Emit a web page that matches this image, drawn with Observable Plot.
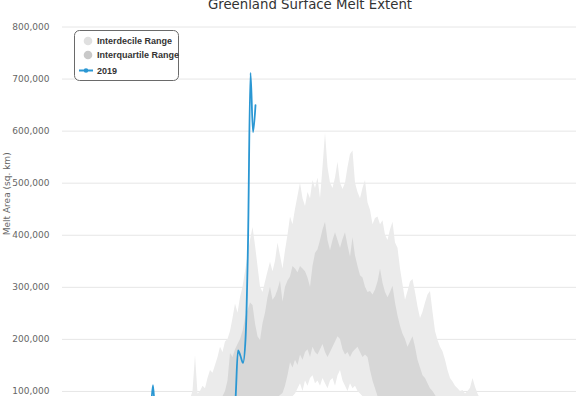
<!DOCTYPE html>
<html><head><meta charset="utf-8">
<script src="https://cdn.jsdelivr.net/npm/d3@7"></script>
<script src="https://cdn.jsdelivr.net/npm/@observablehq/plot@0.6"></script>
<style>
html,body{margin:0;padding:0;width:576px;height:396px;overflow:hidden;background:#fff;}
#wrap{position:relative;width:576px;height:396px;overflow:hidden;}
#chart{position:absolute;left:0;top:0;}
#title{position:absolute;left:44px;width:532px;top:-1.7px;text-align:center;font:13.3px/13.3px "DejaVu Sans",sans-serif;color:#333;white-space:nowrap;}
#legend{position:absolute;left:0;top:0;}
</style></head><body>
<div id="wrap"><div id="chart"></div><div id="title"></div><svg id="legend" width="576" height="100"></svg></div>
<script>
const titleText = "Greenland Surface Melt Extent";
const yLabel = "Melt Area (sq. km)";
const seriesNames = ["Interdecile Range", "Interquartile Range", "2019"];
const yTicks = [100000, 200000, 300000, 400000, 500000, 600000, 700000, 800000];

// Climatology bands, thousand sq. km, one value per day of year starting at day 135
const bandStartDay = 135;
const p90 = [55,70,60,80,85,100,169,95,100,110,
  105,125,140,135,150,165,185,175,195,200,
  215,240,268,250,280,300,330,360,390,415,
  380,340,300,290,310,330,348,330,350,385,
  360,335,370,400,435,420,450,475,500,470,
  455,482,470,505,490,510,470,530,596,530,
  500,490,510,540,500,488,500,530,555,562,
  500,482,470,490,505,462,448,420,432,435,
  420,428,400,390,410,425,385,375,335,305,
  275,292,310,315,290,262,240,252,270,285,
  292,252,215,198,185,176,160,140,125,118,
  110,105,100,102,95,100,106,125,108,95,
  85,75,70,60];
const p75 = [20,25,22,30,35,40,60,35,40,45,
  42,50,55,60,68,75,85,90,100,120,
  173,165,180,190,200,215,240,255,270,265,
  230,205,198,230,250,280,300,275,282,295,
  312,272,300,312,320,340,335,328,340,335,
  330,318,300,340,365,372,390,410,425,390,
  370,390,405,390,375,392,405,380,358,395,
  360,340,322,318,300,290,292,285,295,310,
  335,308,290,280,290,302,270,245,225,210,
  200,185,195,205,185,160,145,130,125,115,
  105,100,92,85,75,70,62,55,50,45,
  42,38,35,33,30,30,28,32,26,22,
  20,18,15,12];
const p25 = [5,6,5,8,9,10,14,10,12,14,
  13,16,18,20,22,25,28,30,32,35,
  40,45,48,50,55,58,60,62,58,60,
  65,68,70,66,72,75,78,80,82,88,
  92,96,110,130,155,145,160,150,170,160,
  175,180,165,185,175,170,180,190,175,165,
  175,185,195,205,200,180,170,175,165,175,
  180,185,175,165,170,165,140,120,105,90,
  82,78,72,68,65,62,58,52,48,44,
  40,36,33,30,28,25,22,20,18,16,
  14,12,11,10,9,8,7,6,6,5,
  5,4,4,3,3,3,2,3,2,2,
  1,1,1,0];
const p10 = [0,1,0,1,2,2,3,2,3,4,
  4,5,6,6,8,9,10,12,14,15,
  18,20,22,25,28,30,32,35,33,36,
  40,42,45,44,48,50,52,55,58,60,
  58,62,66,72,80,90,95,105,115,100,
  120,110,125,130,115,120,110,125,115,105,
  120,125,110,130,140,120,110,100,115,105,
  110,100,95,90,85,80,70,60,52,45,
  40,36,32,28,25,22,20,18,15,13,
  12,10,9,8,7,6,5,4,4,3,
  3,2,2,2,1,1,0,0,0,0,
  0,0,0,0,0,0,0,0,0,0,
  0,0,0,0];

// 2019 daily melt area, thousand sq. km, starting at day 91 (1 April)
const melt2019StartDay = 91;
const melt2019 = [2,0,1,3,5,2,0,0,1,4,
  8,12,6,3,2,1,0,2,5,10,
  18,25,15,8,4,6,12,20,30,22,
  15,35,55,112,
  40,20,15,10,8,12,20,35,25,18,
  30,45,38,22,15,28,40,52,35,25,
  30,48,60,42,30,25,38,55,70,50,
  40,45,85,179,168,155,200,385,712,598,650];

const dayDate = d => new Date(Date.UTC(2019, 0, d));
const bands = p90.map((v, i) => ({
  date: dayDate(bandStartDay + i),
  p10: p10[i] * 1000, p25: p25[i] * 1000, p75: p75[i] * 1000, p90: v * 1000
}));
const line2019 = melt2019.map((v, i) => ({date: dayDate(melt2019StartDay + i), value: v * 1000}));

const lightFill = "#ebebeb", darkFill = "#d7d7d7", blue = "#2a97d3";

const chart = Plot.plot({
  width: 576, height: 473,
  marginTop: 26.5, marginRight: 0, marginBottom: 30, marginLeft: 62,
  style: {fontFamily: '"DejaVu Sans", sans-serif', background: "transparent"},
  x: {type: "utc", domain: [new Date(Date.UTC(2019, 3, 1)), new Date(Date.UTC(2019, 9, 31))], range: [70, 602.5]},
  y: {domain: [0, 800000]},
  marks: [
    Plot.gridY(yTicks, {stroke: "#e6e6e6", strokeOpacity: 1}),
    Plot.areaY(bands, {x: "date", y1: "p10", y2: "p90", fill: lightFill}),
    Plot.areaY(bands, {x: "date", y1: "p25", y2: "p75", fill: darkFill}),
    Plot.line(line2019, {x: "date", y: "value", stroke: blue, strokeWidth: 1.8, curve: "monotone-x"}),
    Plot.axisY(yTicks, {tickSize: 0, tickPadding: 13, tickFormat: d3.format(","), fontSize: 9, color: "#666", label: null}),
    Plot.text([yLabel], {frameAnchor: "left", dx: -55.7, rotate: -90, fontSize: 9, fill: "#666"})
  ]
});
document.getElementById("chart").appendChild(chart);
document.getElementById("title").textContent = titleText;

// Legend
const svg = document.getElementById("legend");
const NS = "http://www.w3.org/2000/svg";
function el(tag, attrs, text) {
  const e = document.createElementNS(NS, tag);
  for (const k in attrs) e.setAttribute(k, attrs[k]);
  if (text != null) e.textContent = text;
  svg.appendChild(e);
  return e;
}
el("rect", {x: 74.5, y: 30.5, width: 104, height: 50, rx: 5, fill: "#fff", stroke: "#6a6a6a", "stroke-width": 1});
const symbolColors = ["#e0e0e0", "#c9c9c9"];
const rowY = [41, 55, 70.5];
seriesNames.forEach((name, i) => {
  if (i < 2) {
    el("circle", {cx: 88, cy: rowY[i], r: 4.3, fill: symbolColors[i]});
  } else {
    el("line", {x1: 79, x2: 93, y1: rowY[i], y2: rowY[i], stroke: blue, "stroke-width": 2});
    el("circle", {cx: 86, cy: rowY[i], r: 2.3, fill: blue});
  }
  el("text", {x: 97, y: rowY[i] + 3.2, "font-family": '"Liberation Sans", Arial, sans-serif', "font-size": 9, "font-weight": "bold", fill: "#333"}, name);
});
</script>
</body></html>
